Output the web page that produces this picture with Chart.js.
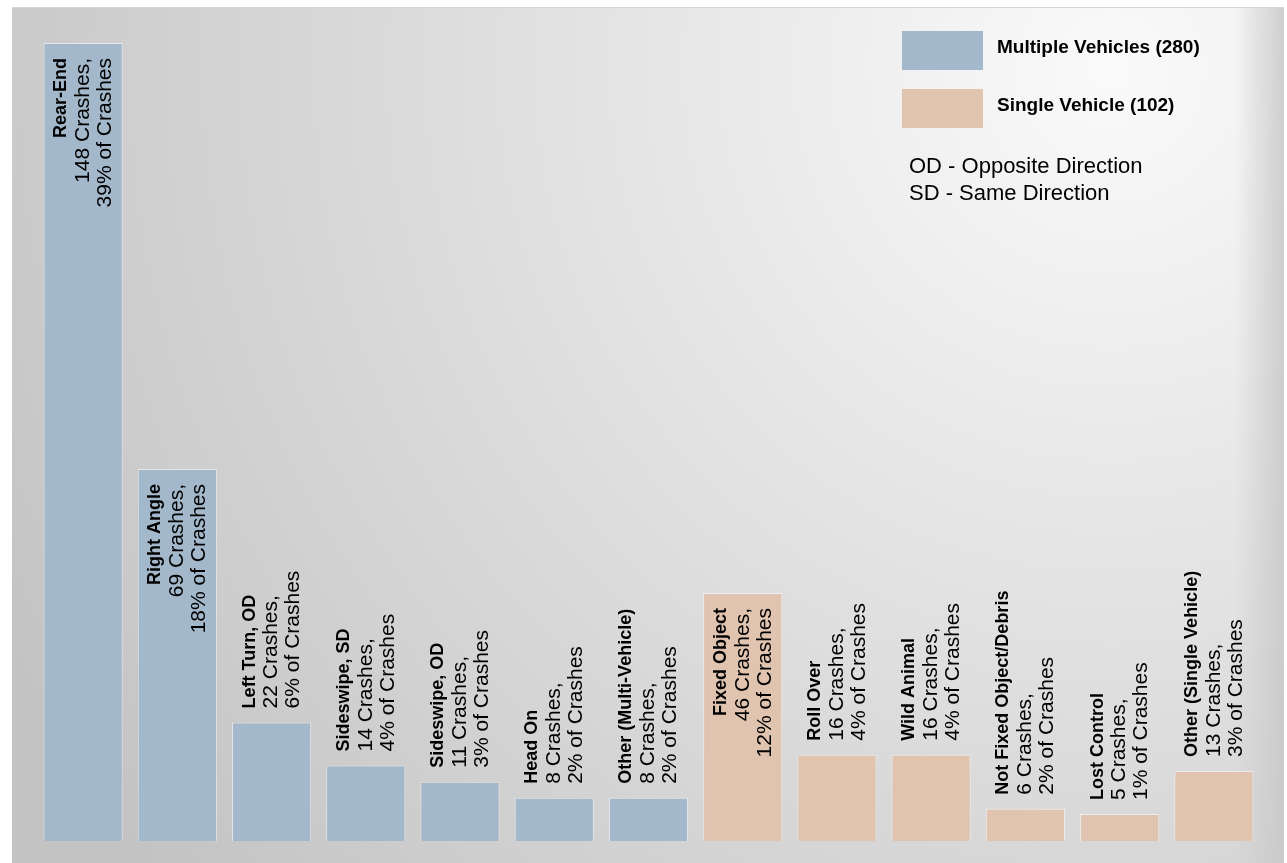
<!DOCTYPE html>
<html>
<head>
<meta charset="utf-8">
<script src="https://cdn.jsdelivr.net/npm/chart.js@4/dist/chart.umd.min.js"></script>
<style>
  html, body { margin: 0; padding: 0; background: #ffffff; }
  canvas { display: block; }
</style>
</head>
<body>
<canvas id="crashTypeChart" width="1287" height="863"></canvas>
<script>
// crash types
var categories = ['Rear-End', 'Right Angle', 'Left Turn, OD', 'Sideswipe, SD', 'Sideswipe, OD', 'Head On',
    'Other (Multi-Vehicle)', 'Fixed Object', 'Roll Over', 'Wild Animal', 'Not Fixed Object/Debris',
    'Lost Control', 'Other (Single Vehicle)'];
var crashCounts = [148, 69, 22, 14, 11, 8, 8, 46, 16, 16, 6, 5, 13];
var crashPercents = [39, 18, 6, 4, 3, 2, 2, 12, 4, 4, 2, 1, 3];
var vehicleGroup = ['multi', 'multi', 'multi', 'multi', 'multi', 'multi', 'multi',
    'single', 'single', 'single', 'single', 'single', 'single'];
var groupNames = ['Multiple Vehicles (280)', 'Single Vehicle (102)'];
var notes = ['OD - Opposite Direction', 'SD - Same Direction'];

var colors = { multi: '#a3b8ca', single: '#e0c4b0' };

document.addEventListener('DOMContentLoaded', function () {
    var ctx = document.getElementById('crashTypeChart').getContext('2d');

    // grey gradient panel behind the plot
    var backgroundPanel = {
        id: 'backgroundPanel',
        beforeDraw: function (chart) {
            var c = chart.ctx;
            c.save();
            var g = c.createRadialGradient(1110, 70, 0, 1110, 70, 1250);
            g.addColorStop(0, '#fafafa');
            g.addColorStop(1, '#c3c3c3');
            c.fillStyle = g;
            c.fillRect(12, 7, 1272, 856);
            var edge = c.createLinearGradient(1235, 0, 1284, 0);
            edge.addColorStop(0, 'rgba(200,200,200,0)');
            edge.addColorStop(1, 'rgba(200,200,200,0.85)');
            c.fillStyle = edge;
            c.fillRect(1235, 7, 49, 856);
            c.fillStyle = '#d6d6d6';
            c.fillRect(12, 7, 1272, 1);
            c.restore();
        }
    };

    var barLabels = {
        id: 'barLabels',
        afterDatasetsDraw: function (chart) {
            var c = chart.ctx;
            var meta = chart.getDatasetMeta(0);
            c.save();
            c.fillStyle = '#000000';
            c.textBaseline = 'middle';
            meta.data.forEach(function (bar, i) {
                // tall bars carry their label inside, short ones above
                var inside = crashCounts[i] > 30;
                var anchorY = inside ? bar.y + 15 : bar.y - 14;
                c.save();
                c.translate(bar.x, anchorY);
                c.rotate(-Math.PI / 2);
                c.textAlign = inside ? 'right' : 'left';
                c.font = 'bold 18px "Liberation Sans", Arial, sans-serif';
                c.fillText(categories[i], 0, -22);
                c.font = '21px "Liberation Sans", Arial, sans-serif';
                c.fillText(crashCounts[i] + ' Crashes,', 0, 0);
                c.fillText(crashPercents[i] + '% of Crashes', 0, 22);
                c.restore();
            });
            c.restore();
        }
    };

    var legendBox = {
        id: 'legendBox',
        afterDraw: function (chart) {
            var c = chart.ctx;
            c.save();
            c.fillStyle = colors.multi;
            c.fillRect(902, 31, 81, 39);
            c.fillStyle = colors.single;
            c.fillRect(902, 89, 81, 39);
            c.fillStyle = '#000000';
            c.textBaseline = 'alphabetic';
            c.textAlign = 'left';
            c.font = 'bold 19px "Liberation Sans", Arial, sans-serif';
            c.fillText(groupNames[0], 997, 53);
            c.fillText(groupNames[1], 997, 111);
            c.font = '22px "Liberation Sans", Arial, sans-serif';
            c.fillText(notes[0], 909, 173);
            c.fillText(notes[1], 909, 200);
            c.restore();
        }
    };

    var crashTypeChart = new Chart(ctx, {
        type: 'bar',
        data: {
            labels: categories,
            datasets: [{
                label: 'Crashes',
                data: crashCounts,
                backgroundColor: vehicleGroup.map(function (g) { return colors[g]; }),
                borderColor: 'rgba(255,255,255,0.5)',
                borderWidth: 1,
                barPercentage: 0.84,
                categoryPercentage: 1.0
            }]
        },
        options: {
            responsive: false,
            animation: false,
            layout: {
                padding: { left: 36, right: 26, top: 43, bottom: 22 }
            },
            scales: {
                x: { display: false },
                y: { display: false, min: 0, max: 148 }
            },
            plugins: {
                legend: { display: false },
                tooltip: { enabled: false }
            }
        },
        plugins: [backgroundPanel, barLabels, legendBox]
    });
});
</script>
</body>
</html>
